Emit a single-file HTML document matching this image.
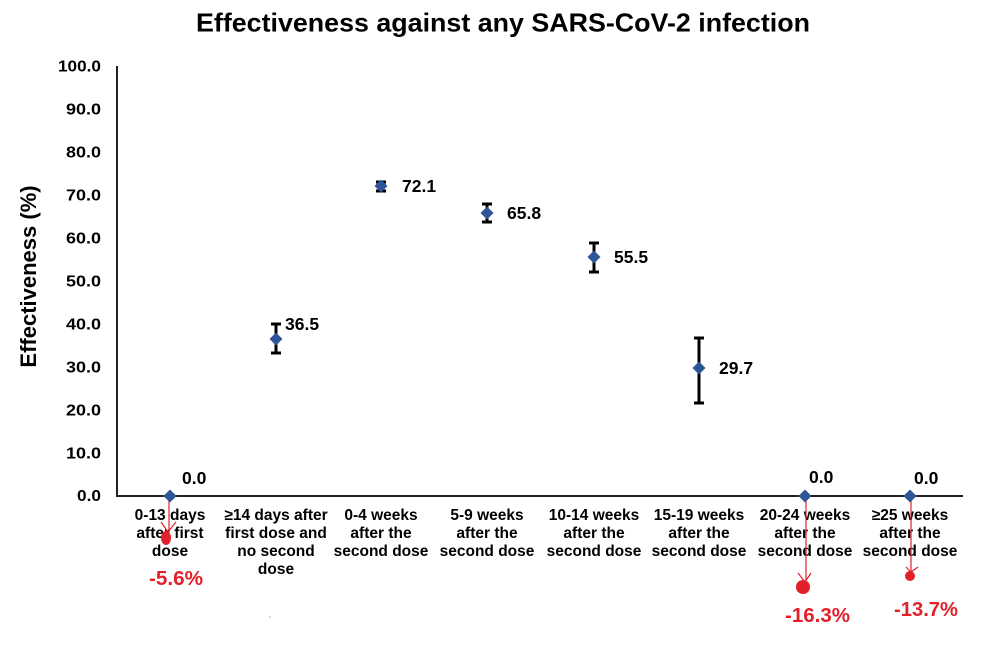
<!DOCTYPE html>
<html>
<head>
<meta charset="utf-8">
<style>
html,body{margin:0;padding:0;background:#fff;}
svg{display:block;}
text{font-family:"Liberation Sans",Arial,sans-serif;font-weight:bold;}
</style>
</head>
<body>
<svg width="981" height="655" viewBox="0 0 981 655" xmlns="http://www.w3.org/2000/svg">
<rect width="981" height="655" fill="#fff"/>
<!-- Title -->
<text x="196" y="31.5" font-size="26" textLength="614" lengthAdjust="spacingAndGlyphs" fill="#000">Effectiveness against any SARS-CoV-2 infection</text>

<!-- Y axis label -->
<text transform="translate(36,276.5) rotate(-90)" text-anchor="middle" font-size="22" fill="#000">Effectiveness (%)</text>

<!-- Y tick labels -->
<g font-size="16" fill="#000" text-anchor="end">
<text x="101" y="71.5" textLength="43" lengthAdjust="spacingAndGlyphs">100.0</text>
<text x="101" y="114.5" textLength="35" lengthAdjust="spacingAndGlyphs">90.0</text>
<text x="101" y="157.5" textLength="35" lengthAdjust="spacingAndGlyphs">80.0</text>
<text x="101" y="200.5" textLength="35" lengthAdjust="spacingAndGlyphs">70.0</text>
<text x="101" y="243.5" textLength="35" lengthAdjust="spacingAndGlyphs">60.0</text>
<text x="101" y="286.5" textLength="35" lengthAdjust="spacingAndGlyphs">50.0</text>
<text x="101" y="329.5" textLength="35" lengthAdjust="spacingAndGlyphs">40.0</text>
<text x="101" y="372.5" textLength="35" lengthAdjust="spacingAndGlyphs">30.0</text>
<text x="101" y="415.5" textLength="35" lengthAdjust="spacingAndGlyphs">20.0</text>
<text x="101" y="458.5" textLength="35" lengthAdjust="spacingAndGlyphs">10.0</text>
<text x="101" y="501" textLength="24" lengthAdjust="spacingAndGlyphs">0.0</text>
</g>

<!-- Axes -->
<line x1="117" y1="66" x2="117" y2="497" stroke="#222" stroke-width="2"/>
<line x1="116" y1="496" x2="963" y2="496" stroke="#222" stroke-width="2"/>

<!-- Category labels -->
<g font-size="15.5" fill="#000" text-anchor="middle">
<text x="170" y="520">0-13 days</text><text x="170" y="538">after first</text><text x="170" y="556">dose</text>
<text x="276" y="520">≥14 days after</text><text x="276" y="538">first dose and</text><text x="276" y="556">no second</text><text x="276" y="574">dose</text>
<text x="381" y="520">0-4 weeks</text><text x="381" y="538">after the</text><text x="381" y="556">second dose</text>
<text x="487" y="520">5-9 weeks</text><text x="487" y="538">after the</text><text x="487" y="556">second dose</text>
<text x="594" y="520">10-14 weeks</text><text x="594" y="538">after the</text><text x="594" y="556">second dose</text>
<text x="699" y="520">15-19 weeks</text><text x="699" y="538">after the</text><text x="699" y="556">second dose</text>
<text x="805" y="520">20-24 weeks</text><text x="805" y="538">after the</text><text x="805" y="556">second dose</text>
<text x="910" y="520">≥25 weeks</text><text x="910" y="538">after the</text><text x="910" y="556">second dose</text>
</g>

<!-- Error bars -->
<g stroke="#000" stroke-width="3" fill="none">
<line x1="276" y1="324" x2="276" y2="353"/><line x1="271" y1="324" x2="281" y2="324"/><line x1="271" y1="353" x2="281" y2="353"/>
<line x1="381" y1="182" x2="381" y2="191"/><line x1="376" y1="182" x2="386" y2="182"/><line x1="376" y1="191" x2="386" y2="191"/>
<line x1="487" y1="204" x2="487" y2="222"/><line x1="482" y1="204" x2="492" y2="204"/><line x1="482" y1="222" x2="492" y2="222"/>
<line x1="594" y1="243" x2="594" y2="272"/><line x1="589" y1="243" x2="599" y2="243"/><line x1="589" y1="272" x2="599" y2="272"/>
<line x1="699" y1="338" x2="699" y2="403"/><line x1="694" y1="338" x2="704" y2="338"/><line x1="694" y1="403" x2="704" y2="403"/>
</g>

<!-- Red arrows -->
<g stroke="#e3202a" stroke-width="1.2" fill="none">
<line x1="169" y1="497" x2="169" y2="533"/>
<polyline points="161,522 168,532 176,522"/>
<line x1="806" y1="497" x2="806" y2="582"/>
<polyline points="798,573 805,582 811,573"/>
<line x1="911" y1="497" x2="911" y2="572"/>
<polyline points="906,567 911,572 918,567"/>
</g>
<g fill="#e3202a">
<ellipse cx="166" cy="538" rx="5" ry="7"/>
<circle cx="803" cy="587" r="7"/>
<circle cx="910" cy="576" r="5"/>
<circle cx="270" cy="617" r="0.8" fill="#e88"/>
</g>

<!-- Diamonds -->
<g fill="#2f5597">
<polygon points="170,489.5 176.5,496 170,502.5 163.5,496"/>
<polygon points="276,332.5 282.5,339 276,345.5 269.5,339"/>
<polygon points="381,179.5 387.5,186 381,192.5 374.5,186"/>
<polygon points="487,206.5 493.5,213 487,219.5 480.5,213"/>
<polygon points="594,250.5 600.5,257 594,263.5 587.5,257"/>
<polygon points="699,361.5 705.5,368 699,374.5 692.5,368"/>
<polygon points="805,489.5 811.5,496 805,502.5 798.5,496"/>
<polygon points="910,489.5 916.5,496 910,502.5 903.5,496"/>
</g>

<!-- Data labels -->
<g font-size="17.5" fill="#000">
<text x="182" y="484">0.0</text>
<text x="285" y="330">36.5</text>
<text x="402" y="192">72.1</text>
<text x="507" y="219">65.8</text>
<text x="614" y="263">55.5</text>
<text x="719" y="374">29.7</text>
<text x="809" y="483">0.0</text>
<text x="914" y="484">0.0</text>
</g>

<!-- Red value labels -->
<g font-size="20" fill="#e3202a">
<text x="149" y="585" textLength="54" lengthAdjust="spacingAndGlyphs">-5.6%</text>
<text x="785" y="622" textLength="65" lengthAdjust="spacingAndGlyphs">-16.3%</text>
<text x="894" y="616" textLength="64" lengthAdjust="spacingAndGlyphs">-13.7%</text>
</g>
</svg>
</body>
</html>
